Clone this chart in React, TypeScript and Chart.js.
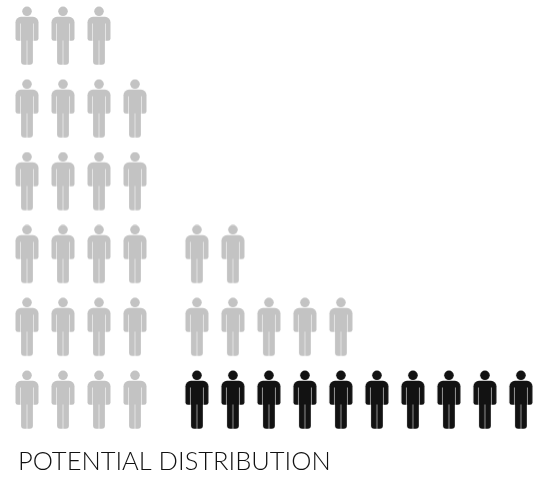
import React, { useEffect, useRef } from "react";
import { Chart, registerables } from "chart.js";

Chart.register(...registerables);

const columnPositions = [0, 1, 2, 3, 4.72, 5.72, 6.72, 7.72, 8.72, 9.72, 10.72, 11.72, 12.72, 13.72];
const grayCounts = [6, 6, 6, 5, 0, 0, 0, 0, 0, 0, 0, 0, 0, 0];
const grayStackedCounts = [0, 0, 0, 0, 2, 2, 1, 1, 1, 0, 0, 0, 0, 0];
const blackCounts = [0, 0, 0, 0, 1, 1, 1, 1, 1, 1, 1, 1, 1, 1];
const titleText = "POTENTIAL DISTRIBUTION";

function personIcon(color: string) {
  const c = document.createElement("canvas");
  c.width = 26;
  c.height = 60;
  const g = c.getContext("2d")!;
  g.translate(13, 0.5);
  g.fillStyle = color;
  g.beginPath();
  g.arc(0, 4.8, 4.8, 0, Math.PI * 2);
  g.fill();
  // shoulders, arms and torso as one block
  g.beginPath();
  g.roundRect(-11.5, 10.3, 23, 24, [5.5, 5.5, 2.4, 2.4]);
  g.fill();
  // legs block
  g.beginPath();
  g.roundRect(-5.9, 30, 11.8, 28.3, [0, 0, 3, 3]);
  g.fill();
  // thin pale separators between arms, torso and legs
  g.globalCompositeOperation = "destination-out";
  g.fillStyle = "rgba(0,0,0,0.55)";
  g.fillRect(-7, 17, 1, 17.5);
  g.fillRect(6, 17, 1, 17.5);
  g.fillRect(-0.5, 34, 1, 24.5);
  g.globalCompositeOperation = "source-over";
  return c;
}

function points(counts: number[], base: number) {
  const out: { x: number; y: number }[] = [];
  counts.forEach((n, i) => {
    for (let k = 0; k < n; k++) out.push({ x: columnPositions[i], y: base + k });
  });
  return out;
}

export default function App() {
  const ref = useRef<HTMLCanvasElement>(null);
  useEffect(() => {
    document.body.style.margin = "0";
    const gray = personIcon("#c3c3c3");
    const black = personIcon("#121212");
    const chart = new Chart(ref.current!, {
      type: "scatter",
      data: {
        datasets: [
          { label: "Gray", data: points(grayCounts, 1), pointStyle: gray as any, pointRadius: 13, backgroundColor: "#c3c3c3", clip: false },
          { label: "Gray upper", data: points(grayStackedCounts, 2), pointStyle: gray as any, pointRadius: 13, backgroundColor: "#c3c3c3", clip: false },
          { label: "Black", data: points(blackCounts, 1), pointStyle: black as any, pointRadius: 13, backgroundColor: "#121212", clip: false },
        ],
      },
      options: {
        animation: false,
        responsive: false,
        events: [],
        layout: { padding: { left: 18 }, autoPadding: false },
        scales: {
          x: { type: "linear", display: false, min: -0.25, max: 14.25 },
          y: { type: "linear", display: false, min: 0.362, max: 6.494 },
        },
        plugins: {
          legend: { display: false },
          tooltip: { enabled: false },
          title: {
            display: true,
            text: titleText,
            position: "bottom",
            align: "start",
            color: "#111111",
            font: { family: "Lato", size: 25.5, weight: "300" },
            padding: { top: 0, bottom: 1 },
          },
        },
      },
    });
    return () => chart.destroy();
  }, []);
  return <canvas ref={ref} width={540} height={478} style={{ display: "block" }} />;
}
